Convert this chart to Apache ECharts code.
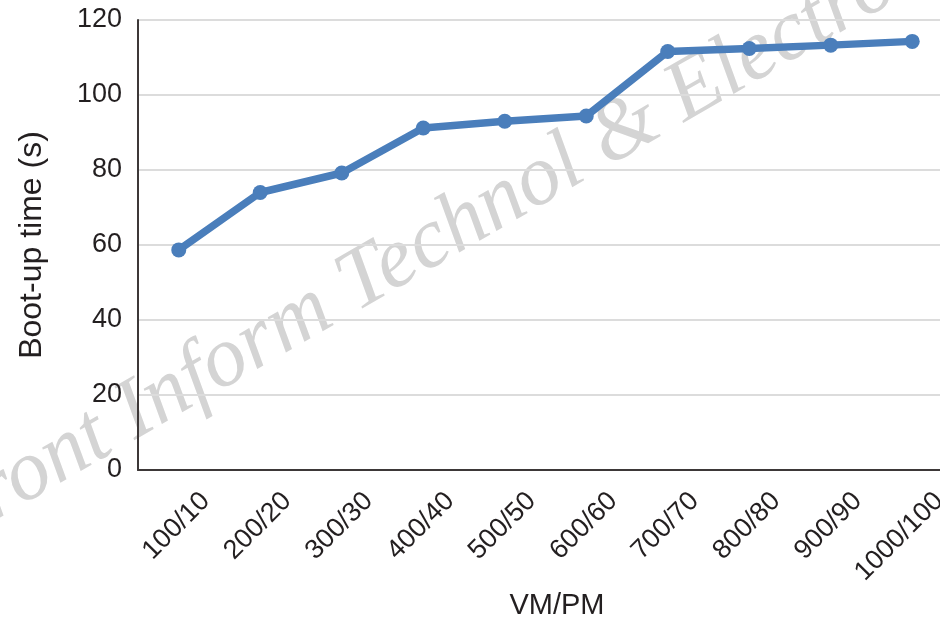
<!DOCTYPE html>
<html>
<head>
<meta charset="utf-8">
<script src="https://cdn.jsdelivr.net/npm/echarts@6/dist/echarts.min.js"></script>
<style>html,body{margin:0;padding:0;background:#fff}#c{width:940px;height:617px}</style>
</head>
<body>
<div id="c"></div>
<script>
const categories = ['100/10','200/20','300/30','400/40','500/50','600/60','700/70','800/80','900/90','1000/100'];
const bootTime = [58.7, 74.0, 79.2, 91.2, 93.0, 94.4, 111.6, 112.4, 113.3, 114.3];
const yTicks = [0, 20, 40, 60, 80, 100, 120];
const xName = 'VM/PM';
const yName = 'Boot-up time (s)';
const watermark = 'Front Inform Technol & Electron';

const chart = echarts.init(document.getElementById('c'), null, {renderer: 'canvas'});
const textColor = '#231f20';
chart.setOption({
  animation: false,
  backgroundColor: '#ffffff',
  grid: {left: 138, right: -13, top: 20, bottom: 147, containLabel: false, outerBoundsMode: 'none'},
  graphic: [{
    type: 'text', z: -10, zlevel: 0, silent: true,
    x: 432, y: 242, rotation: 30 * Math.PI / 180,
    style: {text: watermark, font: 'italic 86px "Liberation Serif"', fill: '#d4d4d4', align: 'center', verticalAlign: 'middle'}
  }],
  xAxis: {
    type: 'category', data: categories, boundaryGap: true,
    name: xName, nameLocation: 'middle', nameGap: 121, nameMoveOverlap: false,
    nameTextStyle: {fontFamily: 'Liberation Sans', fontSize: 29, color: textColor, padding: [0, 0, 0, 23]},
    axisLine: {lineStyle: {color: '#3d3838', width: 2}},
    axisTick: {show: false},
    axisLabel: {rotate: 45, margin: 0, verticalAlign: 'top', lineHeight: 76, fontFamily: 'Liberation Sans', fontSize: 27, color: textColor, interval: 0}
  },
  yAxis: {
    type: 'value', min: yTicks[0], max: yTicks[yTicks.length - 1], interval: 20,
    name: yName, nameLocation: 'middle', nameGap: 90, nameRotate: 90, nameMoveOverlap: false,
    nameTextStyle: {fontFamily: 'Liberation Sans', fontSize: 32, color: textColor},
    axisLine: {show: true, lineStyle: {color: '#3d3838', width: 2}},
    axisTick: {show: false},
    axisLabel: {margin: 16, fontFamily: 'Liberation Sans', fontSize: 27, color: textColor},
    splitLine: {show: true, lineStyle: {color: '#dcdcdc', width: 2}}
  },
  series: [{
    type: 'line', data: bootTime,
    symbol: 'circle', symbolSize: 15,
    lineStyle: {color: '#4a7ebb', width: 7.5},
    itemStyle: {color: '#4a7ebb'}
  }]
});
</script>
</body>
</html>
